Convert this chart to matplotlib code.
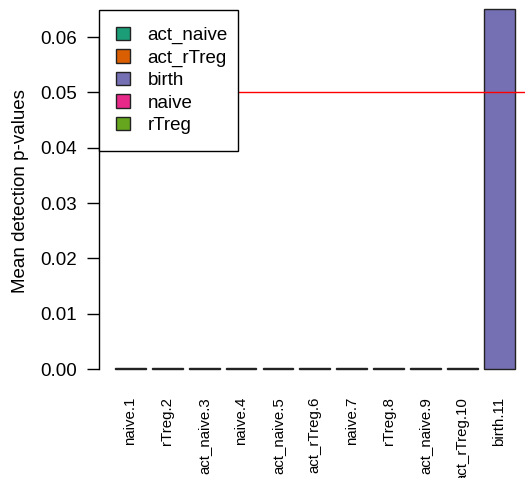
import numpy as np
import matplotlib
matplotlib.use("Agg")
import matplotlib.pyplot as plt
from matplotlib.patches import Patch

plt.rcParams['font.family'] = ['Liberation Sans', 'DejaVu Sans']

# sample names and their group
samples = ["naive.1", "rTreg.2", "act_naive.3", "naive.4", "act_naive.5",
           "act_rTreg.6", "naive.7", "rTreg.8", "act_naive.9", "act_rTreg.10",
           "birth.11"]
groups = ["naive", "rTreg", "act_naive", "naive", "act_naive",
          "act_rTreg", "naive", "rTreg", "act_naive", "act_rTreg", "birth"]
# mean detection p-values
pvals = [0.00012, 0.00015, 0.00012, 0.0001, 0.0001,
         0.0001, 0.00012, 0.00015, 0.00025, 0.00025, 0.0651]

group_names = ["act_naive", "act_rTreg", "birth", "naive", "rTreg"]
group_cols = ["#1B9E77", "#D95F02", "#7570B3", "#E7298A", "#66A61E"]
col_of = dict(zip(group_names, group_cols))

W, H = 525, 478
fig = plt.figure(figsize=(W / 100, H / 100), dpi=100)
# plot region in pixels: left 99, top 0, right 525, bottom 383
ax = fig.add_axes([99 / W, (H - 383) / H, 426 / W, 383 / H])

# R barplot layout: width 1, space 0.2
x = 0.2 + np.arange(len(samples)) * 1.2 + 0.5
ax.bar(x, pvals, width=1.0, color=[col_of[g] for g in groups],
       edgecolor="#222222", linewidth=1.0, zorder=1)

ax.axhline(0.05, color="red", linewidth=1, zorder=2)

ax.set_xlim(-0.32, -0.32 + 426 / 30.75)
y_ppu = (369 - 37) / 0.06
ax.set_ylim(-(383 - 369) / y_ppu, 369 / y_ppu)

for s in ["top", "right", "bottom"]:
    ax.spines[s].set_visible(False)
ax.spines["left"].set_bounds(0, 0.06)
ax.spines["left"].set_linewidth(1)

yt = np.arange(0, 0.061, 0.01)
ax.set_yticks(yt)
ax.set_yticklabels([f"{v:.2f}" for v in yt])
ax.tick_params(axis="y", labelsize=13.5, length=9, width=1, pad=7)
ax.set_xticks(x)
ax.set_xticklabels(samples, rotation=90, va="top", ha="center", fontsize=10.8)
ax.tick_params(axis="x", length=0, pad=10)

ax.set_ylabel("Mean detection p-values", fontsize=13.5)
ax.yaxis.set_label_coords(-0.165, 0.5)

handles = [Patch(facecolor=c, edgecolor="#222222", linewidth=1) for c in group_cols]
leg = ax.legend(handles, group_names, loc="upper left", mode="expand",
                bbox_to_anchor=(0.0, 1 - 10 / 383, 139 / 426, 0.0),
                borderaxespad=0, fontsize=13.5, handlelength=0.75,
                handleheight=0.7, handletextpad=0.95, labelspacing=0.28,
                borderpad=0.9, fancybox=False, framealpha=1,
                edgecolor="black")
leg.get_frame().set_linewidth(1)

fig.savefig("out.png", dpi=100)
